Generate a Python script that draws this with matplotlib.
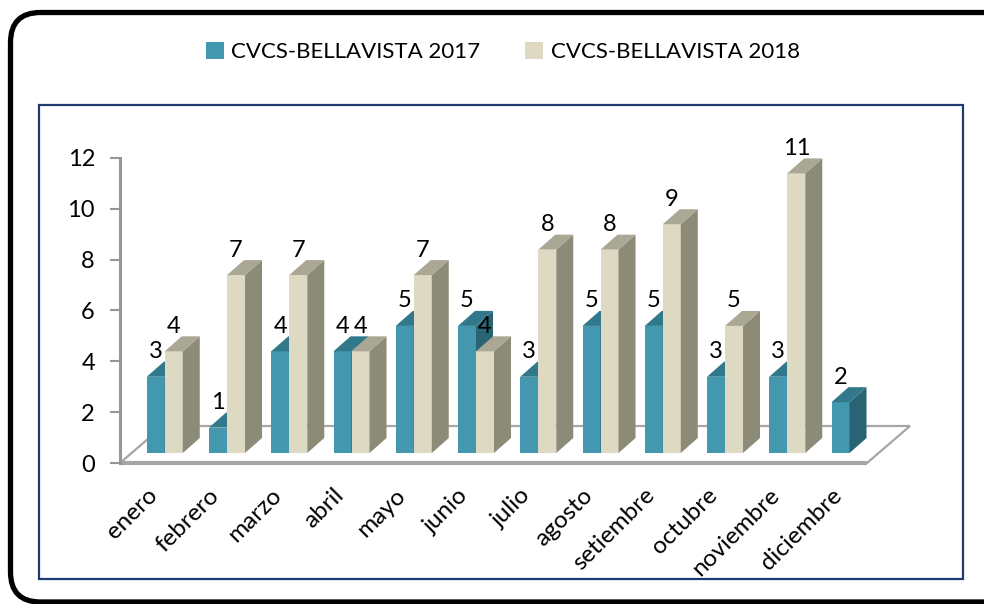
import matplotlib.pyplot as plt
from matplotlib.patches import Polygon, Patch, FancyBboxPatch, Rectangle

# data
months = ['enero', 'febrero', 'marzo', 'abril', 'mayo', 'junio', 'julio',
          'agosto', 'setiembre', 'octubre', 'noviembre', 'diciembre']
vals_2017 = [3, 1, 4, 4, 5, 5, 3, 5, 5, 3, 3, 2]
vals_2018 = [4, 7, 7, 4, 7, 4, 8, 8, 9, 5, 11, None]
series_names = ['CVCS-BELLAVISTA 2017', 'CVCS-BELLAVISTA 2018']

# colours: front, top, side
col_2017 = ('#4398B0', '#31788A', '#286474')
col_2018 = ('#DDD9C3', '#AAA894', '#8C8B78')
FONT = 'Lato'

plt.rcParams['font.family'] = [FONT, 'DejaVu Sans']

fig = plt.figure(figsize=(9.84, 6.04), dpi=100)
fig.patch.set_facecolor('white')

# outer rounded frame (runs off the right edge) and inner plot frame, inches
fig.patches.append(FancyBboxPatch((0.105, 0.02), 10.05, 5.895,
                                  boxstyle='round,pad=0,rounding_size=0.3',
                                  transform=fig.dpi_scale_trans,
                                  fill=False, ec='black', lw=3.8, zorder=0))
fig.patches.append(Rectangle((0.39, 0.25), 9.24, 4.74,
                             transform=fig.dpi_scale_trans,
                             fill=False, ec='#1F3A70', lw=1.6, zorder=0))

# pixel layout of the 3D chart -> data limits for a full-figure axes
px_x0, px_unit_x = 120, 62.25
px_y0, px_unit_y = 463, 25.42
ax = fig.add_axes([0, 0, 1, 1])
ax.set_xlim(-px_x0 / px_unit_x, (984 - px_x0) / px_unit_x)
ax.set_ylim((px_y0 - 604) / px_unit_y, px_y0 / px_unit_y)
ax.patch.set_alpha(0)

n = len(months)
floor_d = (43 / px_unit_x, 37 / px_unit_y)     # floor depth
bar_d = (17 / px_unit_x, 15 / px_unit_y)       # bar depth
front_off = 0.27                                # bar front inside floor depth
bar_w = 18 / px_unit_x
x_first = 0.43

# floor
floor = Polygon([(0, 0), (n, 0), (n + floor_d[0], floor_d[1]),
                 (floor_d[0], floor_d[1])], closed=True,
                fc='white', ec='#A6A6A6', lw=1.6, zorder=1)
ax.add_patch(floor)
ax.plot([0, n], [0, 0], color='#A6A6A6', lw=3, zorder=1.5, solid_capstyle='butt')


def draw_bar(x, v, cols, z):
    y0 = front_off * floor_d[1]
    y1 = y0 + v
    dx, dy = bar_d
    front = Polygon([(x, y0), (x + bar_w, y0), (x + bar_w, y1), (x, y1)],
                    closed=True, fc=cols[0], ec='none', zorder=z)
    side = Polygon([(x + bar_w, y0), (x + bar_w + dx, y0 + dy),
                    (x + bar_w + dx, y1 + dy), (x + bar_w, y1)],
                   closed=True, fc=cols[2], ec='none', zorder=z)
    top = Polygon([(x, y1), (x + bar_w, y1), (x + bar_w + dx, y1 + dy),
                   (x + dx, y1 + dy)], closed=True, fc=cols[1], ec='none', zorder=z)
    for p in (front, side, top):
        ax.add_patch(p)
    ax.text(x + bar_w / 2, y1 + dy + 0.14, str(v), ha='center', va='baseline',
            fontsize=17, color='black', zorder=10)


z = 2
for i in range(n):
    x = i + x_first
    if vals_2017[i] is not None:
        draw_bar(x, vals_2017[i], col_2017, z)
        z += 0.1
    if vals_2018[i] is not None:
        draw_bar(x + bar_w, vals_2018[i], col_2018, z)
        z += 0.1
    ax.text(i + 0.42, -0.85, months[i], rotation=45, rotation_mode='anchor',
            ha='right', va='top', fontsize=17.5, color='black')

# value axis
for s in ['top', 'right', 'bottom']:
    ax.spines[s].set_visible(False)
ax.spines['left'].set_position(('data', 0))
ax.spines['left'].set_bounds(0, 12)
ax.spines['left'].set_color('#969696')
ax.spines['left'].set_linewidth(2.2)
ax.spines['left'].set_zorder(1.6)
ax.set_yticks(range(0, 13, 2))
ax.set_xticks([])
ax.tick_params(axis='y', direction='out', length=7, width=1.5,
               color='#969696', labelsize=17, pad=11)

handles = [Patch(fc=col_2017[0], ec='none'), Patch(fc=col_2018[0], ec='none')]
fig.legend(handles, series_names, loc='center', bbox_to_anchor=(0.511, 0.914),
           ncol=2, frameon=False, fontsize=16, handlelength=0.8,
           handleheight=0.8, handletextpad=0.35, columnspacing=2.0)

fig.savefig('out.png', dpi=100)
